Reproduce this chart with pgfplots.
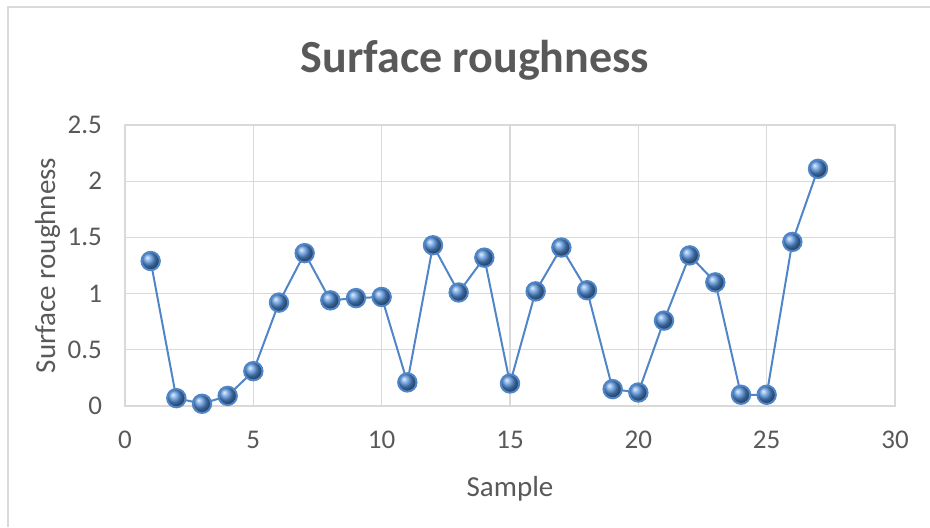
\documentclass[border=0pt]{standalone}
\usepackage{pgfplots}
\pgfplotsset{compat=1.18}
\usepackage{fontspec}
\setmainfont{Carlito}
\definecolor{txtgray}{HTML}{595959}
\definecolor{gridgray}{HTML}{D9D9D9}
\definecolor{seriesline}{HTML}{5086C8}
\definecolor{ballblue}{HTML}{528FDA}

\pgfplotstableread{
x y
1 1.29
2 0.07
3 0.02
4 0.09
5 0.31
6 0.92
7 1.36
8 0.94
9 0.96
10 0.97
11 0.21
12 1.43
13 1.01
14 1.32
15 0.20
16 1.02
17 1.41
18 1.03
19 0.15
20 0.12
21 0.76
22 1.34
23 1.10
24 0.10
25 0.10
26 1.46
27 2.11
}\roughness

\begin{document}
\begin{tikzpicture}[x=1pt,y=1pt]
  % chart area
  \path[use as bounding box] (0,0) rectangle (465,263.5);
  \draw[gridgray, line width=0.6pt] (4,0) -- (4,260) -- (465,260);
  \node[txtgray, font=\fontsize{23}{27}\selectfont\bfseries] at (237.5,233.5) {Surface roughness};
  \begin{axis}[
    at={(62.5pt,60.5pt)}, anchor=south west,
    scale only axis, width=385pt, height=140.5pt,
    xmin=0, xmax=30, ymin=0, ymax=2.5,
    xtick={0,5,...,30}, ytick={0,0.5,...,2.5},
    grid=major,
    major grid style={gridgray, line width=0.6pt},
    axis line style={gridgray, line width=0.6pt},
    tick style={draw=none},
    ticklabel style={txtgray, font=\fontsize{13.5}{16}\selectfont},
    /pgf/number format/assume math mode=true,
    yticklabel style={/pgf/number format/fixed},
    xticklabel style={yshift=-9pt},
    yticklabel style={xshift=-8pt},
    xlabel={Sample}, ylabel={Surface roughness},
    label style={txtgray, font=\fontsize{14.5}{17}\selectfont},
    xlabel style={yshift=-7pt},
    ylabel style={yshift=-3pt},
  ]
    \addplot[seriesline, line width=1pt, mark=ball, mark size=4.6pt,
      mark options={ball color=ballblue, draw=none}] table[x=x,y=y] {\roughness};
  \end{axis}
\end{tikzpicture}
\end{document}
